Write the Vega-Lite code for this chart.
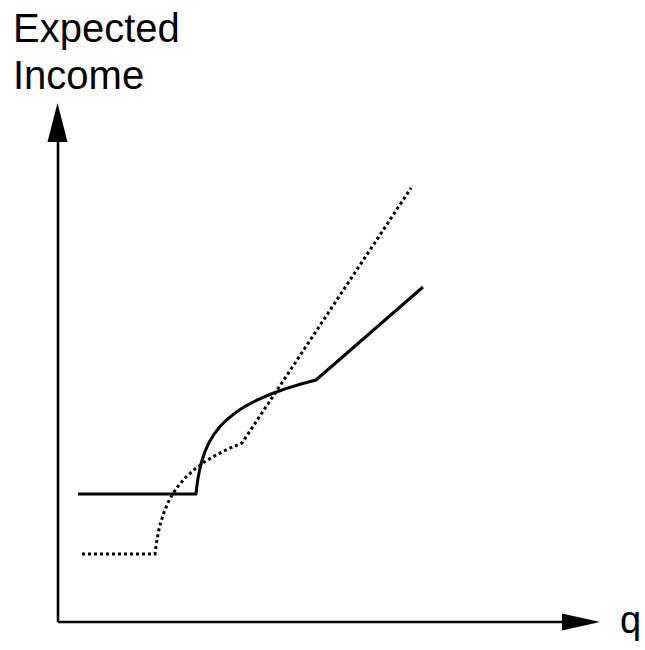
{
  "$schema": "https://vega.github.io/schema/vega-lite/v6.json",
  "width": 645,
  "height": 650,
  "padding": 0,
  "autosize": {"type": "none"},
  "background": "white",
  "config": {"view": {"stroke": null}},
  "datasets": {
    "solid": [
      {"q": 20, "income": 128},
      {"q": 138, "income": 128},
      {"q": 139, "income": 136.8},
      {"q": 140, "income": 143.7},
      {"q": 142, "income": 154},
      {"q": 144, "income": 161.7},
      {"q": 147, "income": 170.6},
      {"q": 151, "income": 179.4},
      {"q": 156, "income": 187.7},
      {"q": 162, "income": 195.5},
      {"q": 169, "income": 202.5},
      {"q": 178, "income": 209.7},
      {"q": 188, "income": 216.2},
      {"q": 200, "income": 222.4},
      {"q": 213, "income": 228},
      {"q": 228, "income": 233.4},
      {"q": 243, "income": 238},
      {"q": 258, "income": 242},
      {"q": 365, "income": 335}
    ],
    "dotted": [
      {"q": 24, "income": 68},
      {"q": 97, "income": 68},
      {"q": 98, "income": 75.9},
      {"q": 99, "income": 82.4},
      {"q": 101, "income": 92.6},
      {"q": 103, "income": 100.5},
      {"q": 106, "income": 109.8},
      {"q": 110, "income": 119.4},
      {"q": 115, "income": 128.5},
      {"q": 121, "income": 137.1},
      {"q": 128, "income": 145},
      {"q": 137, "income": 153.1},
      {"q": 147, "income": 160.4},
      {"q": 159, "income": 167.5},
      {"q": 171, "income": 173.4},
      {"q": 184, "income": 178.9},
      {"q": 353, "income": 434}
    ],
    "axes": [
      {"q": 0, "income": 0, "q2": 506, "income2": 0},
      {"q": 0, "income": 0, "q2": 0, "income2": 482}
    ],
    "yarrow": [{"q": -0.5, "income": 499.5}],
    "xarrow": [{"q": 523, "income": 0}],
    "labels": [
      {"q": -45, "income": 580, "text": "Expected"},
      {"q": -45, "income": 533, "text": "Income"}
    ],
    "qlabel": [{"q": 562, "income": -11, "text": "q"}]
  },
  "encoding": {
    "x": {"field": "q", "type": "quantitative", "scale": {"domain": [-58, 587], "nice": false, "zero": false}, "axis": null},
    "y": {"field": "income", "type": "quantitative", "scale": {"domain": [-28, 622], "nice": false, "zero": false}, "axis": null}
  },
  "layer": [
    {
      "data": {"name": "axes"},
      "mark": {"type": "rule", "color": "black", "strokeWidth": 2.6},
      "encoding": {
        "x2": {"field": "q2"},
        "y2": {"field": "income2"}
      }
    },
    {
      "data": {"name": "yarrow"},
      "mark": {"type": "point", "shape": "M0,-1L0.513,1L-0.513,1Z", "size": 1521, "filled": true, "color": "black", "opacity": 1, "strokeWidth": 0},
      "encoding": {}
    },
    {
      "data": {"name": "xarrow"},
      "mark": {"type": "point", "shape": "M1,0L-1,0.447L-1,-0.447Z", "size": 1444, "filled": true, "color": "black", "opacity": 1, "strokeWidth": 0},
      "encoding": {}
    },
    {
      "data": {"name": "solid"},
      "mark": {"type": "line", "color": "black", "strokeWidth": 3, "interpolate": "linear", "strokeJoin": "round"},
      "encoding": {}
    },
    {
      "data": {"name": "dotted"},
      "mark": {"type": "line", "color": "black", "strokeWidth": 3, "strokeDash": [3, 3], "interpolate": "linear"},
      "encoding": {}
    },
    {
      "data": {"name": "labels"},
      "mark": {"type": "text", "align": "left", "baseline": "alphabetic", "font": "Liberation Sans", "fontSize": 40, "color": "black"},
      "encoding": {"text": {"field": "text"}}
    },
    {
      "data": {"name": "qlabel"},
      "mark": {"type": "text", "align": "left", "baseline": "alphabetic", "font": "Liberation Sans", "fontSize": 38, "color": "black"},
      "encoding": {"text": {"field": "text"}}
    }
  ]
}
